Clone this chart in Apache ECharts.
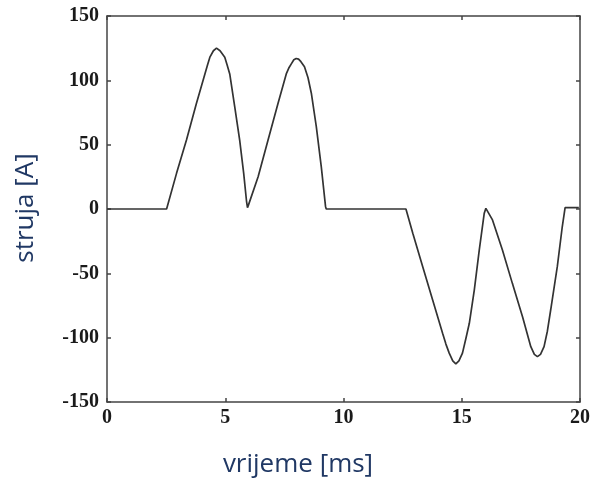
<!DOCTYPE html>
<html><head><meta charset="utf-8">
<script src="https://cdn.jsdelivr.net/npm/echarts@6/dist/echarts.min.js"></script>
<style>html,body{margin:0;padding:0;background:#fff}#c{width:593px;height:484px}</style>
</head><body><div id="c"></div>
<script>
var timeMs = [0, 2.52, 2.94, 3.36, 3.78, 4.14, 4.25, 4.35, 4.5, 4.63, 4.78, 4.98, 5.08, 5.19, 5.40, 5.61, 5.78, 5.90, 5.94, 5.98,
  6.39, 6.81, 7.23, 7.58, 7.7, 7.8, 7.9, 8.0, 8.1, 8.2, 8.35, 8.5, 8.64, 8.85, 9.06, 9.24, 9.27,
  12.64, 12.93, 13.35, 13.77, 14.19, 14.33, 14.47, 14.62, 14.75, 14.88, 15.03, 15.17, 15.32, 15.53, 15.74, 15.95, 16.02, 16.09,
  16.30, 16.72, 17.14, 17.57, 17.92, 18.07, 18.20, 18.33, 18.48, 18.62, 18.76, 19.04, 19.25, 19.37, 19.95];
var currentA = [0, 0, 27.7, 53.6, 82, 105, 112, 118, 123, 125, 123, 118, 112, 105, 79.5, 53.6, 27.7, 6, 1, 3,
  25, 53.6, 82, 105, 110, 113, 116, 117, 116.5, 114.5, 110.6, 102, 90, 64, 33, 2, 0,
  0, -18.9, -44.8, -70.7, -96.6, -105, -112, -118, -120.4, -118, -112, -101, -88.8, -63, -31.9, -3.4, 0.5, -1,
  -8.5, -31.9, -57.8, -83.7, -107, -113, -114.7, -113, -107, -95, -78.5, -44.8, -13.8, 1, 1];
var xTicks = [0, 5, 10, 15, 20];
var yTicks = [-150, -100, -50, 0, 50, 100, 150];
var xTitle = 'vrijeme [ms]';
var yTitle = 'struja [A]';

var chart = echarts.init(document.getElementById('c'));
var data = timeMs.map(function (t, i) { return [t, currentA[i]]; });
var lineStyle = { color: '#444', width: 1.5 };
var tickFont = { fontFamily: 'Liberation Serif', fontSize: 20, fontWeight: 'bold', color: '#1a1a1a' };
chart.setOption({
  animation: false,
  grid: { left: 107, right: 12, top: 16, bottom: 82, show: false },
  xAxis: [{
    type: 'value', min: xTicks[0], max: xTicks[xTicks.length - 1], interval: 5, position: 'bottom',
    axisLine: { show: true, onZero: false, lineStyle: lineStyle },
    axisTick: { show: true, inside: true, length: 4, lineStyle: lineStyle },
    axisLabel: Object.assign({ margin: 6 }, tickFont),
    splitLine: { show: false }
  }, {
    type: 'value', min: xTicks[0], max: xTicks[xTicks.length - 1], interval: 5, position: 'top',
    axisLine: { show: true, onZero: false, lineStyle: lineStyle },
    axisTick: { show: true, inside: true, length: 4, lineStyle: lineStyle },
    axisLabel: { show: false }, splitLine: { show: false }
  }],
  yAxis: [{
    type: 'value', min: yTicks[0], max: yTicks[yTicks.length - 1], interval: 50, position: 'left',
    axisLine: { show: true, onZero: false, lineStyle: lineStyle },
    axisTick: { show: true, inside: true, length: 4, lineStyle: lineStyle },
    axisLabel: Object.assign({ margin: 8 }, tickFont),
    splitLine: { show: false }
  }, {
    type: 'value', min: yTicks[0], max: yTicks[yTicks.length - 1], interval: 50, position: 'right',
    axisLine: { show: true, onZero: false, lineStyle: lineStyle },
    axisTick: { show: true, inside: true, length: 4, lineStyle: lineStyle },
    axisLabel: { show: false }, splitLine: { show: false }
  }],
  graphic: [
    { type: 'text', x: 298, y: 465, style: { text: xTitle, fontFamily: 'Open Sans', fontSize: 26, fill: '#203864', align: 'center', verticalAlign: 'middle' } },
    { type: 'text', rotation: Math.PI / 2, x: 26, y: 208, style: { text: yTitle, fontFamily: 'Open Sans', fontSize: 26, fill: '#203864', align: 'center', verticalAlign: 'middle' } }
  ],
  series: [{
    type: 'line', data: data, showSymbol: false, smooth: false,
    lineStyle: { color: '#333', width: 1.7 }
  }]
});
</script></body></html>
